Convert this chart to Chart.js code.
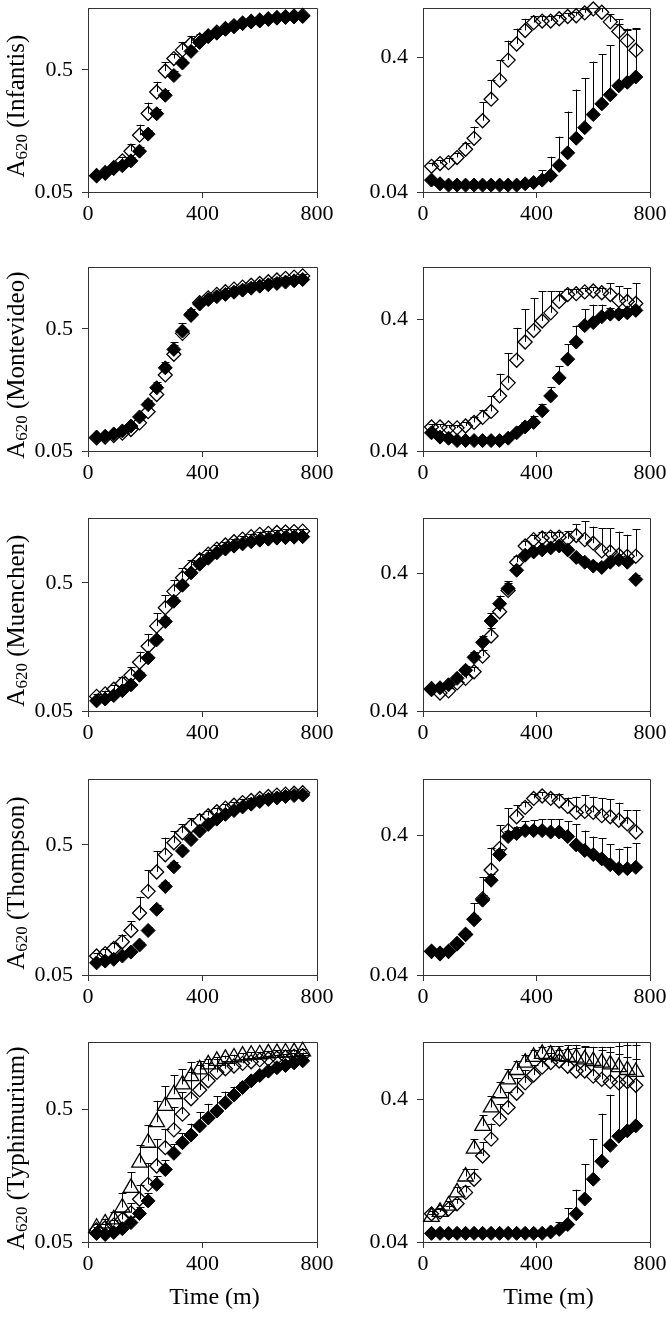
<!DOCTYPE html>
<html>
<head>
<meta charset="utf-8">
<script src="https://cdn.jsdelivr.net/npm/chart.js@4.4.1/dist/chart.umd.min.js"></script>
<style>
  html, body { margin: 0; padding: 0; background: #fff; }
  body { position: relative; width: 666px; height: 1334px; overflow: hidden; }
  canvas { position: absolute; }
</style>
</head>
<body>
<script>
// sampling times (min) and axis ticks
const times = [30, 60, 90, 120, 150, 180, 210, 240, 270, 300, 330, 360, 390, 420, 450, 480, 510, 540, 570, 600, 630, 660, 690, 720, 750];
const strains = ['Infantis', 'Montevideo', 'Muenchen', 'Thompson', 'Typhimurium'];
const xTicks = [0, 400, 800];
const leftTicks = [0.05, 0.5];
const rightTicks = [0.04, 0.4];
const leftRange = [0.05, 1.6];
const rightMin = 0.04;
const rightMax = [0.92, 1.0, 1.0, 1.0, 1.0];

// Infantis
const infL_filled = [0.068, 0.071, 0.078, 0.082, 0.090, 0.108, 0.149, 0.219, 0.31, 0.45, 0.57, 0.71, 0.84, 0.94, 1.0, 1.08, 1.13, 1.2, 1.24, 1.26, 1.3, 1.33, 1.35, 1.36, 1.37];
const infL_filledSd = [0.003, 0.003, 0.004, 0.005, 0.006, 0.008, 0.012, 0.02, 0.03, 0.04, 0.04, 0.04, 0.04, 0.03, 0.03, 0.03, 0.03, 0.03, 0.03, 0.03, 0.03, 0.03, 0.03, 0.03, 0.03];
const infL_open = [0.068, 0.072, 0.079, 0.09, 0.108, 0.146, 0.22, 0.33, 0.49, 0.62, 0.73, 0.82, 0.88, 0.95, 1.02, 1.09, 1.15, 1.21, 1.25, 1.28, 1.31, 1.34, 1.36, 1.38, 1.4];
const infL_openSd = [0.003, 0.004, 0.005, 0.007, 0.015, 0.032, 0.05, 0.07, 0.09, 0.06, 0.11, 0.13, 0.1, 0.06, 0.05, 0.04, 0.04, 0.04, 0.04, 0.04, 0.04, 0.04, 0.04, 0.04, 0.04];
const infR_filled = [0.049, 0.046, 0.045, 0.045, 0.045, 0.045, 0.045, 0.045, 0.045, 0.045, 0.045, 0.046, 0.047, 0.049, 0.053, 0.063, 0.078, 0.10, 0.12, 0.15, 0.18, 0.21, 0.245, 0.26, 0.285];
const infR_filledSd = [0.002, 0.002, 0.002, 0.002, 0.002, 0.002, 0.002, 0.002, 0.002, 0.002, 0.002, 0.002, 0.004, 0.009, 0.02, 0.04, 0.08, 0.13, 0.16, 0.22, 0.24, 0.28, 0.46, 0.37, 0.37];
const infR_open = [0.062, 0.065, 0.066, 0.072, 0.083, 0.10, 0.135, 0.195, 0.27, 0.38, 0.50, 0.63, 0.72, 0.74, 0.74, 0.77, 0.80, 0.81, 0.85, 0.91, 0.86, 0.73, 0.62, 0.53, 0.45];
const infR_openSd = [0.004, 0.004, 0.005, 0.006, 0.01, 0.022, 0.05, 0.075, 0.11, 0.15, 0.15, 0.14, 0.09, 0.07, 0.07, 0.05, 0.05, 0.06, 0.06, 0.05, 0.08, 0.1, 0.14, 0.12, 0.2];

// Montevideo
const monL_filled = [0.065, 0.066, 0.069, 0.073, 0.08, 0.095, 0.12, 0.165, 0.24, 0.34, 0.48, 0.66, 0.80, 0.87, 0.92, 0.96, 1.0, 1.04, 1.08, 1.12, 1.15, 1.18, 1.21, 1.24, 1.27];
const monL_filledSd = [0.002, 0.002, 0.003, 0.003, 0.004, 0.005, 0.008, 0.012, 0.02, 0.03, 0.03, 0.03, 0.03, 0.03, 0.03, 0.03, 0.03, 0.03, 0.03, 0.03, 0.03, 0.03, 0.03, 0.03, 0.03];
const monL_open = [0.064, 0.065, 0.067, 0.07, 0.075, 0.085, 0.105, 0.145, 0.21, 0.31, 0.46, 0.65, 0.82, 0.9, 0.96, 1.01, 1.06, 1.1, 1.14, 1.18, 1.22, 1.26, 1.3, 1.33, 1.36];
const monL_openSd = [0.002, 0.002, 0.003, 0.004, 0.006, 0.015, 0.025, 0.04, 0.06, 0.08, 0.1, 0.08, 0.06, 0.04, 0.04, 0.04, 0.04, 0.04, 0.04, 0.04, 0.04, 0.04, 0.04, 0.04, 0.04];
const monR_filled = [0.055, 0.051, 0.050, 0.048, 0.048, 0.048, 0.048, 0.048, 0.048, 0.050, 0.055, 0.061, 0.066, 0.081, 0.105, 0.144, 0.20, 0.27, 0.36, 0.38, 0.42, 0.44, 0.44, 0.45, 0.47];
const monR_filledSd = [0.002, 0.002, 0.002, 0.002, 0.002, 0.002, 0.002, 0.002, 0.002, 0.003, 0.004, 0.006, 0.008, 0.01, 0.017, 0.032, 0.06, 0.09, 0.12, 0.14, 0.1, 0.05, 0.04, 0.03, 0.03];
const monR_open = [0.061, 0.061, 0.060, 0.060, 0.062, 0.066, 0.072, 0.080, 0.105, 0.132, 0.196, 0.27, 0.33, 0.39, 0.45, 0.55, 0.62, 0.63, 0.65, 0.66, 0.64, 0.62, 0.56, 0.55, 0.53];
const monR_openSd = [0.003, 0.003, 0.003, 0.003, 0.004, 0.006, 0.01, 0.025, 0.05, 0.09, 0.15, 0.21, 0.25, 0.27, 0.21, 0.11, 0.06, 0.05, 0.05, 0.05, 0.06, 0.14, 0.16, 0.14, 0.23];

// Muenchen
const muenL_filled = [0.06, 0.062, 0.066, 0.072, 0.08, 0.095, 0.13, 0.18, 0.25, 0.36, 0.48, 0.60, 0.70, 0.78, 0.86, 0.92, 0.97, 1.01, 1.05, 1.08, 1.1, 1.12, 1.13, 1.14, 1.15];
const muenL_filledSd = [0.002, 0.002, 0.003, 0.003, 0.004, 0.005, 0.008, 0.012, 0.02, 0.03, 0.03, 0.03, 0.03, 0.03, 0.03, 0.03, 0.03, 0.03, 0.03, 0.03, 0.03, 0.03, 0.03, 0.03, 0.03];
const muenL_open = [0.065, 0.068, 0.074, 0.082, 0.095, 0.12, 0.16, 0.23, 0.32, 0.43, 0.55, 0.66, 0.76, 0.84, 0.92, 0.99, 1.05, 1.1, 1.15, 1.2, 1.22, 1.24, 1.25, 1.26, 1.27];
const muenL_openSd = [0.003, 0.004, 0.006, 0.01, 0.015, 0.025, 0.04, 0.06, 0.08, 0.1, 0.1, 0.09, 0.08, 0.07, 0.07, 0.06, 0.06, 0.06, 0.06, 0.06, 0.06, 0.06, 0.06, 0.06, 0.06];
const muenR_filled = [0.057, 0.059, 0.062, 0.069, 0.079, 0.098, 0.126, 0.18, 0.24, 0.31, 0.42, 0.54, 0.57, 0.59, 0.61, 0.63, 0.59, 0.52, 0.48, 0.45, 0.44, 0.48, 0.50, 0.48, 0.36];
const muenR_filledSd = [0.002, 0.002, 0.003, 0.004, 0.006, 0.01, 0.015, 0.025, 0.035, 0.04, 0.04, 0.03, 0.03, 0.03, 0.03, 0.03, 0.03, 0.03, 0.03, 0.03, 0.03, 0.03, 0.03, 0.03, 0.03];
const muenR_open = [0.058, 0.054, 0.056, 0.064, 0.069, 0.077, 0.10, 0.14, 0.21, 0.30, 0.48, 0.63, 0.70, 0.72, 0.73, 0.73, 0.71, 0.75, 0.70, 0.66, 0.58, 0.57, 0.54, 0.53, 0.53];
const muenR_openSd = [0.003, 0.003, 0.003, 0.004, 0.005, 0.006, 0.01, 0.02, 0.03, 0.04, 0.05, 0.06, 0.06, 0.07, 0.07, 0.07, 0.1, 0.16, 0.25, 0.21, 0.27, 0.28, 0.26, 0.23, 0.3];

// Thompson
const thoL_filled = [0.062, 0.064, 0.066, 0.07, 0.075, 0.085, 0.11, 0.16, 0.24, 0.34, 0.45, 0.55, 0.64, 0.72, 0.79, 0.86, 0.92, 0.98, 1.03, 1.08, 1.12, 1.15, 1.18, 1.2, 1.21];
const thoL_filledSd = [0.002, 0.002, 0.003, 0.003, 0.004, 0.005, 0.008, 0.012, 0.02, 0.03, 0.03, 0.03, 0.03, 0.03, 0.03, 0.03, 0.03, 0.03, 0.03, 0.03, 0.03, 0.03, 0.03, 0.03, 0.03];
const thoL_open = [0.07, 0.073, 0.08, 0.09, 0.11, 0.15, 0.22, 0.31, 0.42, 0.52, 0.62, 0.70, 0.77, 0.84, 0.9, 0.96, 1.01, 1.06, 1.1, 1.14, 1.18, 1.21, 1.23, 1.25, 1.26];
const thoL_openSd = [0.004, 0.006, 0.008, 0.012, 0.02, 0.05, 0.1, 0.14, 0.15, 0.12, 0.1, 0.1, 0.09, 0.08, 0.07, 0.07, 0.06, 0.06, 0.05, 0.05, 0.05, 0.05, 0.05, 0.05, 0.05];
const thoR_filled = [0.059, 0.057, 0.059, 0.067, 0.078, 0.10, 0.137, 0.19, 0.29, 0.39, 0.41, 0.43, 0.43, 0.43, 0.42, 0.42, 0.39, 0.34, 0.31, 0.29, 0.27, 0.245, 0.23, 0.23, 0.235];
const thoR_filledSd = [0.002, 0.002, 0.002, 0.003, 0.005, 0.008, 0.012, 0.02, 0.03, 0.04, 0.05, 0.07, 0.08, 0.09, 0.1, 0.1, 0.11, 0.14, 0.12, 0.10, 0.11, 0.10, 0.09, 0.10, 0.115];
const thoR_open = [0.059, 0.057, 0.059, 0.067, 0.078, 0.10, 0.14, 0.225, 0.32, 0.43, 0.54, 0.63, 0.73, 0.76, 0.73, 0.70, 0.64, 0.58, 0.59, 0.58, 0.55, 0.54, 0.51, 0.48, 0.42];
const thoR_openSd = [0.002, 0.002, 0.002, 0.003, 0.005, 0.03, 0.06, 0.1, 0.15, 0.19, 0.11, 0.06, 0.05, 0.05, 0.06, 0.09, 0.1, 0.17, 0.18, 0.17, 0.18, 0.18, 0.17, 0.12, 0.18];

// Typhimurium
const typL_filled = [0.058, 0.057, 0.059, 0.063, 0.070, 0.082, 0.102, 0.136, 0.176, 0.233, 0.28, 0.32, 0.375, 0.43, 0.485, 0.56, 0.64, 0.73, 0.82, 0.90, 0.97, 1.03, 1.07, 1.12, 1.16];
const typL_filledSd = [0.003, 0.003, 0.004, 0.005, 0.007, 0.01, 0.015, 0.02, 0.03, 0.04, 0.05, 0.07, 0.1, 0.12, 0.14, 0.12, 0.1, 0.08, 0.06, 0.05, 0.05, 0.04, 0.04, 0.04, 0.04];
const typL_open = [0.062, 0.064, 0.067, 0.074, 0.083, 0.105, 0.136, 0.187, 0.257, 0.35, 0.46, 0.6, 0.70, 0.82, 0.95, 1.01, 1.06, 1.11, 1.14, 1.18, 1.2, 1.22, 1.24, 1.26, 1.27];
const typL_openSd = [0.003, 0.004, 0.006, 0.01, 0.015, 0.03, 0.06, 0.11, 0.1, 0.17, 0.21, 0.35, 0.38, 0.3, 0.25, 0.15, 0.1, 0.08, 0.07, 0.07, 0.07, 0.07, 0.07, 0.07, 0.07];
const typL_tri = [0.064, 0.069, 0.074, 0.091, 0.128, 0.198, 0.28, 0.40, 0.53, 0.65, 0.77, 0.89, 1.0, 1.09, 1.16, 1.2, 1.23, 1.27, 1.29, 1.3, 1.32, 1.33, 1.34, 1.35, 1.37];
const typL_triSd = [0.004, 0.006, 0.01, 0.027, 0.04, 0.07, 0.1, 0.18, 0.22, 0.25, 0.23, 0.25, 0.15, 0.1, 0.08, 0.07, 0.06, 0.06, 0.06, 0.06, 0.06, 0.06, 0.06, 0.06, 0.06];
const typR_filled = [0.046, 0.046, 0.046, 0.046, 0.046, 0.046, 0.046, 0.046, 0.046, 0.046, 0.046, 0.046, 0.046, 0.046, 0.047, 0.049, 0.053, 0.063, 0.080, 0.11, 0.147, 0.19, 0.22, 0.24, 0.26];
const typR_filledSd = [0.001, 0.001, 0.001, 0.001, 0.001, 0.001, 0.001, 0.001, 0.001, 0.001, 0.001, 0.001, 0.001, 0.002, 0.003, 0.006, 0.016, 0.03, 0.06, 0.1, 0.17, 0.24, 0.8, 0.8, 0.8];
const typR_open = [0.063, 0.065, 0.068, 0.074, 0.089, 0.11, 0.16, 0.21, 0.29, 0.35, 0.44, 0.52, 0.59, 0.67, 0.72, 0.74, 0.68, 0.63, 0.63, 0.58, 0.55, 0.53, 0.52, 0.53, 0.5];
const typR_openSd = [0.003, 0.003, 0.004, 0.006, 0.01, 0.02, 0.04, 0.06, 0.08, 0.1, 0.12, 0.12, 0.1, 0.1, 0.12, 0.14, 0.22, 0.28, 0.3, 0.35, 0.38, 0.4, 0.42, 0.42, 0.45];
const typR_tri = [0.06, 0.065, 0.072, 0.089, 0.115, 0.18, 0.26, 0.35, 0.44, 0.55, 0.64, 0.72, 0.79, 0.83, 0.82, 0.8, 0.79, 0.78, 0.76, 0.74, 0.72, 0.7, 0.67, 0.64, 0.62];
const typR_triSd = [0.003, 0.004, 0.005, 0.008, 0.015, 0.03, 0.05, 0.07, 0.09, 0.1, 0.1, 0.1, 0.1, 0.1, 0.12, 0.14, 0.16, 0.18, 0.18, 0.18, 0.16, 0.15, 0.16, 0.15, 0.14];

// layout (px): plot area top/bottom of each row
const rowTop = [5, 264, 515, 776, 1037];
const rowBottom = [192, 451, 711, 975, 1242];
const frameColor = '#333';
const serif = "'Liberation Serif', 'Times New Roman', serif";

Chart.defaults.font.family = serif;
Chart.defaults.font.size = 22;
Chart.defaults.color = '#000';

const markerStyles = {
    filled: { pointStyle: 'rectRot', radius: 7, fill: '#000', border: '#000', width: 1 },
    open: { pointStyle: 'rectRot', radius: 7, fill: 'rgba(255,255,255,0)', border: '#000', width: 1.3 },
    tri: { pointStyle: 'triangle', radius: 9, fill: 'rgba(255,255,255,0)', border: '#000', width: 1.3 }
};

// series listed top-most first (dataset 0 is drawn last)
const panels = [
    { row: 0, col: 0, series: [['filled', infL_filled, infL_filledSd], ['open', infL_open, infL_openSd]] },
    { row: 0, col: 1, series: [['filled', infR_filled, infR_filledSd], ['open', infR_open, infR_openSd]] },
    { row: 1, col: 0, series: [['filled', monL_filled, monL_filledSd], ['open', monL_open, monL_openSd]] },
    { row: 1, col: 1, series: [['filled', monR_filled, monR_filledSd], ['open', monR_open, monR_openSd]] },
    { row: 2, col: 0, series: [['filled', muenL_filled, muenL_filledSd], ['open', muenL_open, muenL_openSd]] },
    { row: 2, col: 1, series: [['filled', muenR_filled, muenR_filledSd], ['open', muenR_open, muenR_openSd]] },
    { row: 3, col: 0, series: [['filled', thoL_filled, thoL_filledSd], ['open', thoL_open, thoL_openSd]] },
    { row: 3, col: 1, series: [['filled', thoR_filled, thoR_filledSd], ['open', thoR_open, thoR_openSd]] },
    { row: 4, col: 0, series: [['filled', typL_filled, typL_filledSd], ['tri', typL_tri, typL_triSd], ['open', typL_open, typL_openSd]] },
    { row: 4, col: 1, series: [['filled', typR_filled, typR_filledSd], ['tri', typR_tri, typR_triSd], ['open', typR_open, typR_openSd]] }
];

// box round the plot area (left/bottom come from the axis borders)
const framePlugin = {
    id: 'frame',
    beforeDatasetsDraw(chart) {
        const { ctx, chartArea: a } = chart;
        ctx.save();
        ctx.strokeStyle = frameColor;
        ctx.lineWidth = 1;
        ctx.beginPath();
        ctx.moveTo(Math.round(a.left), Math.round(a.top) + 0.5);
        ctx.lineTo(Math.round(a.right) + 0.5, Math.round(a.top) + 0.5);
        ctx.lineTo(Math.round(a.right) + 0.5, Math.round(a.bottom));
        ctx.stroke();
        ctx.restore();
    }
};

// upper error bars (mean + sd) with a small cap
const errorBarPlugin = {
    id: 'errorBars',
    afterDatasetsDraw(chart) {
        const { ctx, chartArea: a, scales: { x, y } } = chart;
        ctx.save();
        ctx.beginPath();
        ctx.rect(a.left, a.top, a.right - a.left, a.bottom - a.top);
        ctx.clip();
        ctx.strokeStyle = '#000';
        ctx.lineWidth = 1;
        chart.data.datasets.forEach(ds => {
            ds.data.forEach((p, i) => {
                const px = Math.round(x.getPixelForValue(p.x)) + 0.5;
                const py = y.getPixelForValue(p.y);
                const top = y.getPixelForValue(p.y + ds.sd[i]);
                ctx.beginPath();
                ctx.moveTo(px, py);
                ctx.lineTo(px, top);
                ctx.moveTo(px - 4, Math.round(top) + 0.5);
                ctx.lineTo(px + 4, Math.round(top) + 0.5);
                ctx.stroke();
            });
        });
        ctx.restore();
    }
};

function titlePlugin(p) {
    return {
        id: 'panelTitles',
        afterDraw(chart) {
            const { ctx, chartArea: a } = chart;
            ctx.save();
            ctx.fillStyle = '#000';
            ctx.textBaseline = 'alphabetic';
            if (p.col === 0) {
                const big = '25px ' + serif;
                const small = '17px ' + serif;
                const parts = [['A', big, 0], ['620', small, 3], [' (' + strains[p.row] + ')', big, 0]];
                let total = 0;
                parts.forEach(([t, f]) => { ctx.font = f; total += ctx.measureText(t).width; });
                ctx.translate(24, (a.top + a.bottom) / 2 + 6);
                ctx.rotate(-Math.PI / 2);
                let u = -total / 2;
                parts.forEach(([t, f, dv]) => {
                    ctx.font = f;
                    ctx.fillText(t, u, dv);
                    u += ctx.measureText(t).width;
                });
                ctx.setTransform(1, 0, 0, 1, 0, 0);
            }
            if (p.row === 4) {
                ctx.font = '24px ' + serif;
                ctx.textAlign = 'center';
                ctx.textBaseline = 'middle';
                ctx.fillText('Time (m)', (a.left + a.right) / 2 + 12, a.bottom + 56);
            }
            ctx.restore();
        }
    };
}

panels.forEach(p => {
    const canvas = document.createElement('canvas');
    const left = p.col === 0 ? 0 : 333;
    const top = Math.max(0, rowTop[p.row] - 5);
    const bottom = p.row === 4 ? 1334 : rowBottom[p.row] + 45;
    canvas.width = 333;
    canvas.height = bottom - top;
    canvas.style.left = left + 'px';
    canvas.style.top = top + 'px';
    document.body.appendChild(canvas);

    const yAxisW = p.col === 0 ? 88 : 90;
    const xAxisH = bottom - rowBottom[p.row];
    const yTicks = p.col === 0 ? leftTicks : rightTicks;
    const yMin = p.col === 0 ? leftRange[0] : rightMin;
    const yMax = p.col === 0 ? leftRange[1] : rightMax[p.row];

    const datasets = p.series.map(([kind, values, sd]) => {
        const st = markerStyles[kind];
        return {
            data: times.map((t, i) => ({ x: t, y: values[i] })),
            sd: sd,
            showLine: false,
            pointStyle: st.pointStyle,
            pointRadius: st.radius,
            pointHoverRadius: st.radius,
            pointBackgroundColor: st.fill,
            pointBorderColor: st.border,
            pointBorderWidth: st.width,
            clip: false
        };
    });

    new Chart(canvas, {
        type: 'scatter',
        data: { datasets: datasets },
        options: {
            responsive: false,
            animation: false,
            events: [],
            layout: { padding: { top: rowTop[p.row] - top, right: 16, left: 0, bottom: 0 } },
            plugins: {
                legend: { display: false },
                tooltip: { enabled: false }
            },
            scales: {
                x: {
                    type: 'linear',
                    min: 0,
                    max: 800,
                    afterBuildTicks: s => { s.ticks = xTicks.map(v => ({ value: v })); },
                    afterFit: s => { s.height = xAxisH; s.paddingLeft = 0; s.paddingRight = 0; },
                    grid: { drawOnChartArea: false, drawTicks: true, tickLength: 6, color: frameColor },
                    border: { display: true, color: frameColor, width: 1 },
                    ticks: { padding: 3, maxRotation: 0, autoSkip: false, callback: v => String(v) }
                },
                y: {
                    type: 'logarithmic',
                    min: yMin,
                    max: yMax,
                    bounds: 'data',
                    afterBuildTicks: s => { s.ticks = yTicks.map(v => ({ value: v })); },
                    afterFit: s => { s.width = yAxisW; s.paddingTop = 0; s.paddingBottom = 0; },
                    grid: { drawOnChartArea: false, drawTicks: true, tickLength: 6, color: frameColor },
                    border: { display: true, color: frameColor, width: 1 },
                    ticks: { padding: 9, autoSkip: false, callback: v => String(v) }
                }
            }
        },
        plugins: [framePlugin, errorBarPlugin, titlePlugin(p)]
    });
});
</script>
</body>
</html>
